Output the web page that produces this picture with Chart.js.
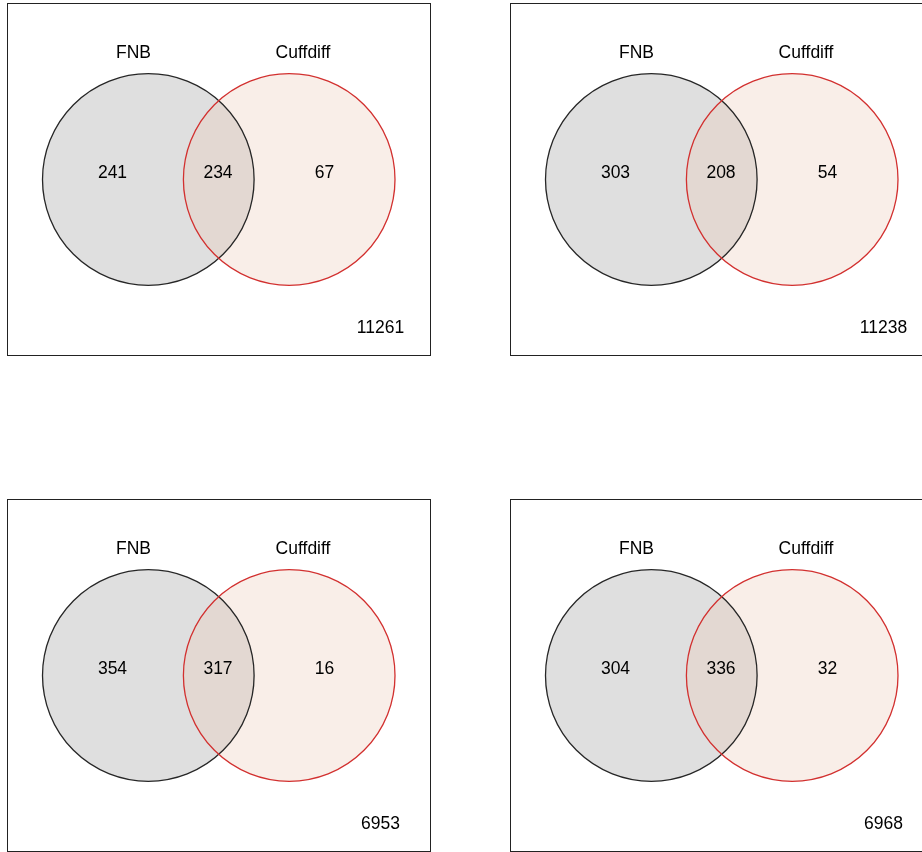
<!DOCTYPE html>
<html>
<head>
<meta charset="utf-8">
<script src="https://cdn.jsdelivr.net/npm/chart.js@4"></script>
<style>
  html, body { margin: 0; padding: 0; background: #fff; overflow: hidden; width: 922px; height: 852px; }
  .panel { position: absolute; width: 424px; height: 353px; }
  .panel canvas { display: block; }
</style>
</head>
<body>
<div class="panel" style="left:7px;top:3px"><canvas id="venn0"></canvas></div>
<div class="panel" style="left:510px;top:3px"><canvas id="venn1"></canvas></div>
<div class="panel" style="left:7px;top:499px"><canvas id="venn2"></canvas></div>
<div class="panel" style="left:510px;top:499px"><canvas id="venn3"></canvas></div>
<script>
// Set names and region counts for each of the four comparisons
const setNames = ['FNB', 'Cuffdiff'];
const onlyFNB = [241, 303, 354, 304];
const shared = [234, 208, 317, 336];
const onlyCuffdiff = [67, 54, 16, 32];
const neither = [11261, 11238, 6953, 6968];

// Panel geometry, in panel units (1 unit = 1 px of the 424x353 panel)
const geom = {
  width: 424, height: 353,
  cy: 176.5, r: 105.8,
  cxLeft: 141.3, cxRight: 282.2,
  nameY: 50, nameX: [126.5, 296],
  countY: 170, countX: [105.5, 211, 317.5],
  cornerX: 373.5, cornerY: 325
};

const FONT = '"Liberation Sans", Arial, Helvetica, sans-serif';
const FILL = ['rgba(128,128,128,0.25)', 'rgba(238,202,186,0.33)'];
const EDGE = ['#262626', '#d2302f'];

// Circle radius in pixels, taken from the x scale
const radiusPx = (ctx) => {
  const s = ctx.chart.scales.x;
  if (!s) return 0;
  const v = s.getPixelForValue(geom.r) - s.getPixelForValue(0);
  return isFinite(v) && v > 0 ? v : 0;
};

// Draws the panel frame and all text labels in scale coordinates
const vennText = {
  id: 'vennText',
  beforeDraw(chart) {
    const { ctx, chartArea: a } = chart;
    ctx.save();
    ctx.strokeStyle = '#222';
    ctx.lineWidth = 1;
    ctx.strokeRect(a.left + 0.5, a.top + 0.5, a.right - a.left - 1, a.bottom - a.top - 1);
    ctx.restore();
  },
  afterDatasetsDraw(chart, args, opts) {
    const { ctx } = chart;
    const xs = chart.scales.x, ys = chart.scales.y;
    ctx.save();
    ctx.fillStyle = '#000';
    ctx.font = '17.5px ' + FONT;
    ctx.textAlign = 'center';
    ctx.textBaseline = 'middle';
    opts.items.forEach(it => {
      ctx.fillText(it.text, xs.getPixelForValue(it.x), ys.getPixelForValue(it.y));
    });
    ctx.restore();
  }
};

// One circle layer: either a translucent fill or an outline
function circle(label, cx, fill, edge, order) {
  return {
    label,
    data: [{ x: cx, y: geom.cy }],
    pointBackgroundColor: fill,
    pointBorderColor: edge,
    pointBorderWidth: edge === 'transparent' ? 0 : 1.3,
    pointRadius: radiusPx,
    pointHoverRadius: radiusPx,
    order
  };
}

function makeVenn(id, i) {
  const items = [
    { text: setNames[0], x: geom.nameX[0], y: geom.nameY },
    { text: setNames[1], x: geom.nameX[1], y: geom.nameY },
    { text: String(onlyFNB[i]), x: geom.countX[0], y: geom.countY },
    { text: String(shared[i]), x: geom.countX[1], y: geom.countY },
    { text: String(onlyCuffdiff[i]), x: geom.countX[2], y: geom.countY },
    { text: String(neither[i]), x: geom.cornerX, y: geom.cornerY }
  ];
  new Chart(document.getElementById(id), {
    type: 'scatter',
    data: {
      // fills first, outlines on top (lower order is drawn later)
      datasets: [
        circle(setNames[1], geom.cxRight, 'transparent', EDGE[1], 0),
        circle(setNames[0], geom.cxLeft, 'transparent', EDGE[0], 1),
        circle(setNames[1], geom.cxRight, FILL[1], 'transparent', 2),
        circle(setNames[0], geom.cxLeft, FILL[0], 'transparent', 3)
      ]
    },
    options: {
      responsive: false,
      animation: false,
      events: [],
      layout: { padding: 0, autoPadding: false },
      scales: {
        x: { type: 'linear', display: false, min: 0, max: geom.width },
        y: { type: 'linear', display: false, min: 0, max: geom.height, reverse: true }
      },
      plugins: {
        legend: { display: false },
        tooltip: { enabled: false },
        vennText: { items }
      }
    },
    plugins: [vennText]
  });
}

['venn0', 'venn1', 'venn2', 'venn3'].forEach((id, i) => {
  const c = document.getElementById(id);
  c.width = geom.width;
  c.height = geom.height;
  c.style.width = geom.width + 'px';
  c.style.height = geom.height + 'px';
  makeVenn(id, i);
});
</script>
</body>
</html>
